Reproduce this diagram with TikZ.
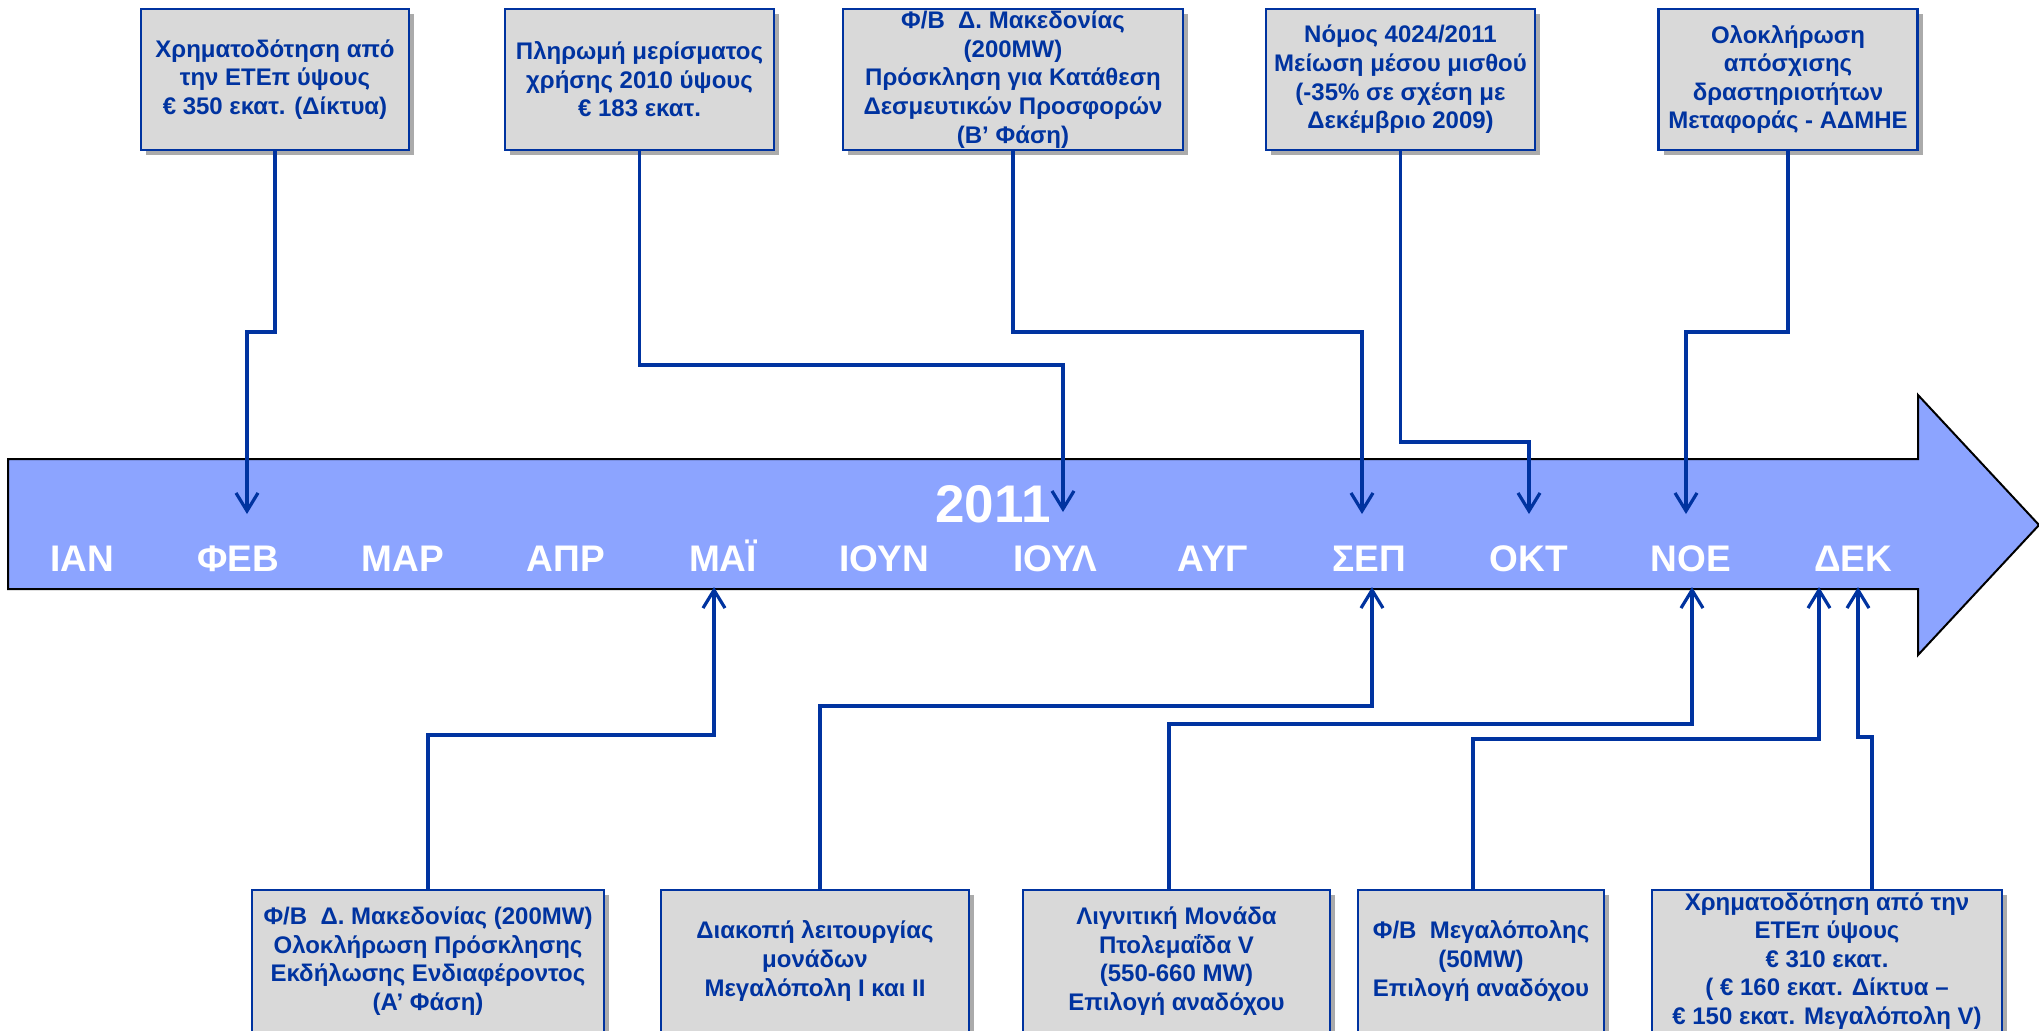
\documentclass[tikz,border=0pt]{standalone}
\usepackage{fontspec}
\setmainfont{Liberation Sans}
\usetikzlibrary{arrows.meta,shadows}
\definecolor{navy}{RGB}{0,51,160}
\definecolor{tlblue}{RGB}{140,164,255}
\definecolor{boxgray}{RGB}{217,217,217}
\begin{document}
\begin{tikzpicture}[x=0.5pt,y=-0.5pt,
 evbox/.style={draw=navy, line width=1.3pt, fill=boxgray, inner sep=0pt,
   drop shadow={shadow xshift=2.5pt,shadow yshift=-2.5pt,opacity=0.55,fill=black!60}},
 evtext/.style={text=navy, font=\fontsize{12}{14.3}\selectfont\bfseries, align=center, inner sep=0pt},
 month/.style={text=white, font=\fontsize{18.5}{22}\selectfont\bfseries, anchor=base, inner sep=0pt},
 conn/.style={draw=navy, line width=1.6pt, -{Straight Barb[length=9pt,width=11pt]}}]
\useasboundingbox (0,0) rectangle (2039,1030);
\begin{scope}
\clip (0,0) rectangle (2039,1030);
% timeline arrow
\draw[fill=tlblue, draw=black, line width=1pt, line join=miter]
  (8,459) -- (1918,459) -- (1918,395) -- (2039,525) -- (1918,655) -- (1918,589) -- (8,589) -- cycle;
\node[text=white, font=\fontsize{26.5}{30}\selectfont\bfseries, anchor=base, inner sep=0pt] (year) at (993,522) {2011};
\node[month] (m1) at (82,571) {ΙΑΝ};
\node[month] (m2) at (238,571) {ΦΕΒ};
\node[month] (m3) at (403,571) {ΜΑΡ};
\node[month] (m4) at (566,571) {ΑΠΡ};
\node[month] (m5) at (723,571) {ΜΑΪ};
\node[month] (m6) at (884,571) {ΙΟΥΝ};
\node[month] (m7) at (1055,571) {ΙΟΥΛ};
\node[month] (m8) at (1213,571) {ΑΥΓ};
\node[month] (m9) at (1369,571) {ΣΕΠ};
\node[month] (m10) at (1529,571) {ΟΚΤ};
\node[month] (m11) at (1691,571) {ΝΟΕ};
\node[month] (m12) at (1853,571) {ΔΕΚ};
% arrow end points
\coordinate (tFEB) at (247,514);
\coordinate (tJUL) at (1063,512);
\coordinate (tSEP) at (1362,514);
\coordinate (tOCT) at (1529,514);
\coordinate (tNOV) at (1686,514);
\coordinate (bMAY) at (714,587);
\coordinate (bSEP) at (1372,587);
\coordinate (bNOV) at (1692,587);
\coordinate (bDEC1) at (1819,587);
\coordinate (bDEC2) at (1858,587);
% top boxes
\node[evbox, minimum width=134pt, minimum height=70.5pt,
  label={[evtext,name=t1x]center:Χρηματοδότηση από\\την ΕΤΕπ ύψους\\€ 350 εκατ. (Δίκτυα)}] (t1) at (275,79.5) {};
\node[evbox, minimum width=134.5pt, minimum height=70.5pt,
  label={[evtext,name=t2x]center:Πληρωμή μερίσματος\\χρήσης 2010 ύψους\\€ 183 εκατ.}] (t2) at (639.5,79.5) {};
\node[evbox, minimum width=170pt, minimum height=70.5pt,
  label={[evtext,name=t3x]center:Φ/Β~~Δ. Μακεδονίας\\(200MW)\\Πρόσκληση για Κατάθεση\\Δεσμευτικών Προσφορών\\(Β’ Φάση)}] (t3) at (1013,79.5) {};
\node[evbox, minimum width=134.5pt, minimum height=70.5pt,
  label={[evtext,name=t4x]center:Νόμος 4024/2011\\Μείωση μέσου μισθού\\(-35\% σε σχέση με\\Δεκέμβριο 2009)}] (t4) at (1400.5,79.5) {};
\node[evbox, minimum width=129.5pt, minimum height=70.5pt,
  label={[evtext,name=t5x]center:Ολοκλήρωση\\απόσχισης\\δραστηριοτήτων\\Μεταφοράς - ΑΔΜΗΕ}] (t5) at (1788,79.5) {};
% bottom boxes
\node[evbox, minimum width=176pt, minimum height=71pt,
  label={[evtext,name=b1x]center:Φ/Β~~Δ. Μακεδονίας (200MW)\\Ολοκλήρωση Πρόσκλησης\\Εκδήλωσης Ενδιαφέροντος\\(Α’ Φάση)}] (b1) at (428,961) {};
\node[evbox, minimum width=154pt, minimum height=71pt,
  label={[evtext,name=b2x]center:Διακοπή λειτουργίας\\μονάδων\\Μεγαλόπολη Ι και ΙΙ}] (b2) at (815,961) {};
\node[evbox, minimum width=153.5pt, minimum height=71pt,
  label={[evtext,name=b3x]center:Λιγνιτική Μονάδα\\Πτολεμαΐδα V\\(550-660 MW)\\Επιλογή αναδόχου}] (b3) at (1176.5,961) {};
\node[evbox, minimum width=123pt, minimum height=71pt,
  label={[evtext,name=b4x]center:Φ/Β~~Μεγαλόπολης\\(50MW)\\Επιλογή αναδόχου}] (b4) at (1481,961) {};
\node[evbox, minimum width=175pt, minimum height=71pt,
  label={[evtext,name=b5x]center:Χρηματοδότηση από την\\ΕΤΕπ ύψους\\€ 310 εκατ.\\( € 160 εκατ. Δίκτυα –\\€ 150 εκατ. Μεγαλόπολη V)}] (b5) at (1827,961) {};
% connectors from top
\draw[conn] (t1.south) -- (t1.south |- 0,332) -| (tFEB);
\draw[conn] (t2.south) -- (t2.south |- 0,365) -| (tJUL);
\draw[conn] (t3.south) -- (t3.south |- 0,332) -| (tSEP);
\draw[conn] (t4.south) -- (t4.south |- 0,442) -| (tOCT);
\draw[conn] (t5.south) -- (t5.south |- 0,332) -| (tNOV);
% connectors from bottom
\draw[conn] (b1.north) -- (b1.north |- 0,735) -| (bMAY);
\draw[conn] (b2.north -| 820,0) -- (820,706) -| (bSEP);
\draw[conn] (b3.north -| 1169,0) -- (1169,724) -| (bNOV);
\draw[conn] (b4.north -| 1473,0) -- (1473,739) -| (bDEC1);
\draw[conn] (b5.north -| 1872,0) -- (1872,737) -| (bDEC2);
\end{scope}
\end{tikzpicture}
\end{document}
